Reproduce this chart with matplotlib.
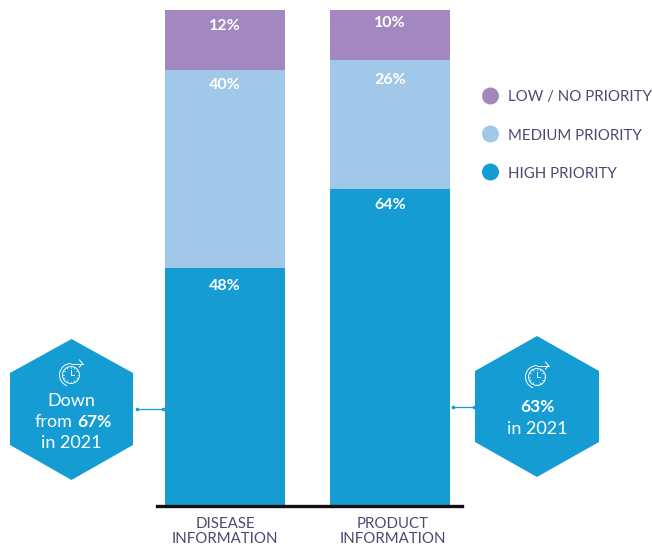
import numpy as np
import matplotlib
matplotlib.use("Agg")
import matplotlib.pyplot as plt
from matplotlib.patches import Polygon, Circle, Arc
from matplotlib.transforms import ScaledTranslation

W, H = 652, 546

categories = ["DISEASE\nINFORMATION", "PRODUCT\nINFORMATION"]
high = [48, 64]
medium = [40, 26]
low = [12, 10]
legend_labels = ["LOW / NO PRIORITY", "MEDIUM PRIORITY", "HIGH PRIORITY"]

BLUE = "#159dd3"
LIGHT = "#a1c8e8"
PURPLE = "#a288be"
INK = "#54466f"

plt.rcParams["font.family"] = ["Lato", "DejaVu Sans"]

fig = plt.figure(figsize=(W / 100, H / 100), dpi=100, facecolor="white")

# bar axes: one category step is 165 px, the 0-100 scale runs over y 506..10
ax = fig.add_axes([157 / W, 1 - 506 / H, 305 / W, 496 / H])
ax.set_xlim((157 - 225) / 165, (462 - 225) / 165)
ax.set_ylim(0, 100)
x = np.arange(len(categories))
bw = 120 / 165
ax.bar(x, high, bw, color=BLUE)
ax.bar(x, medium, bw, bottom=high, color=LIGHT)
ax.bar(x, low, bw, bottom=np.add(high, medium), color=PURPLE)

for s in ["top", "left", "right"]:
    ax.spines[s].set_visible(False)
ax.spines["bottom"].set_linewidth(2.4)
ax.spines["bottom"].set_color("#111111")
ax.set_yticks([])
ax.set_xticks(x)
ax.set_xticklabels(categories, fontsize=10.8, color=INK, linespacing=1.05)
ax.tick_params(axis="x", length=0, pad=8)
# the second label sits slightly right of its bar centre
lab = ax.get_xticklabels()[1]
lab.set_transform(lab.get_transform() + ScaledTranslation(2.5 / 100, 0, fig.dpi_scale_trans))


# labels hang a few px under the top of their segment
def seg_labels(vals, bottoms, drops):
    for i, v in enumerate(vals):
        ax.annotate(f"{v}%", (x[i], bottoms[i] + v), xytext=(0, -drops[i] * 0.72),
                    textcoords="offset points", ha="center", va="center",
                    color="white", fontsize=11.5, fontweight="bold")


seg_labels(high, [0, 0], [18, 16])
seg_labels(medium, high, [15, 20])
seg_labels(low, np.add(high, medium), [16, 13])

# everything else is placed in pixels on a full-figure overlay
ov = fig.add_axes([0, 0, 1, 1], facecolor="none")
ov.set_xlim(0, W)
ov.set_ylim(H, 0)
ov.axis("off")


def hexagon(cx, x0, x1, y0, y1, y2, y3):
    ov.add_patch(Polygon([(cx, y0), (x1, y1), (x1, y2), (cx, y3), (x0, y2), (x0, y1)],
                         closed=True, fc=BLUE, ec="none"))


def stopwatch(cx, cy):
    ov.add_patch(Circle((cx, cy), 8.5, fc="none", ec="white", lw=0.7))
    ov.add_patch(Arc((cx, cy), 23, 23, theta1=-250, theta2=-90, ec="white", lw=0.7))
    ov.plot([cx, cx + 11.5], [cy - 11.5, cy - 11.5], color="white", lw=0.7)
    ov.plot([cx + 8.5, cx + 11.5, cx + 8.5], [cy - 15, cy - 11.5, cy - 8], color="white", lw=0.7)
    ov.plot([cx, cx, cx + 3], [cy - 5, cy, cy], color="white", lw=0.7)
    for a in np.arange(0, 360, 30):
        r = np.radians(a)
        ov.plot([cx + 6.6 * np.cos(r), cx + 7.8 * np.cos(r)],
                [cy + 6.6 * np.sin(r), cy + 7.8 * np.sin(r)], color="white", lw=0.5)


def connector(x0, x1, y):
    ov.plot([x0, x1], [y, y], color=BLUE, lw=0.9)
    ov.plot([x0, x1], [y, y], ls="none", marker="o", ms=1.6, color=BLUE)


hexagon(71.5, 10, 133, 339, 373, 445, 480)
stopwatch(71, 375)
connector(137, 163, 409)
ov.text(71, 401, "Down", color="white", fontsize=13, ha="center", va="center")
t1 = ov.text(35, 422, "from", color="white", fontsize=13, ha="left", va="center")
fig.canvas.draw()
ext = t1.get_window_extent()
ov.text(ext.x1 + 4, 422, "67%", color="white", fontsize=12.5, fontweight="bold", ha="left", va="center")
ov.text(71, 443, "in 2021", color="white", fontsize=13, ha="center", va="center")

hexagon(537, 475, 599, 336, 371, 442, 477)
stopwatch(537, 377)
connector(453, 474, 407)
ov.text(537, 407, "63%", color="white", fontsize=12.5, fontweight="bold", ha="center", va="center")
ov.text(537, 429, "in 2021", color="white", fontsize=13, ha="center", va="center")

for label, col, ly in zip(legend_labels, [PURPLE, LIGHT, BLUE], [96, 134, 172]):
    ov.add_patch(Circle((490.5, ly), 8.5, fc=col, ec="none"))
    ov.text(508, ly + 1.5, label, color=INK, fontsize=10.8, ha="left", va="center")

fig.savefig("out.png", dpi=100, facecolor="white")
